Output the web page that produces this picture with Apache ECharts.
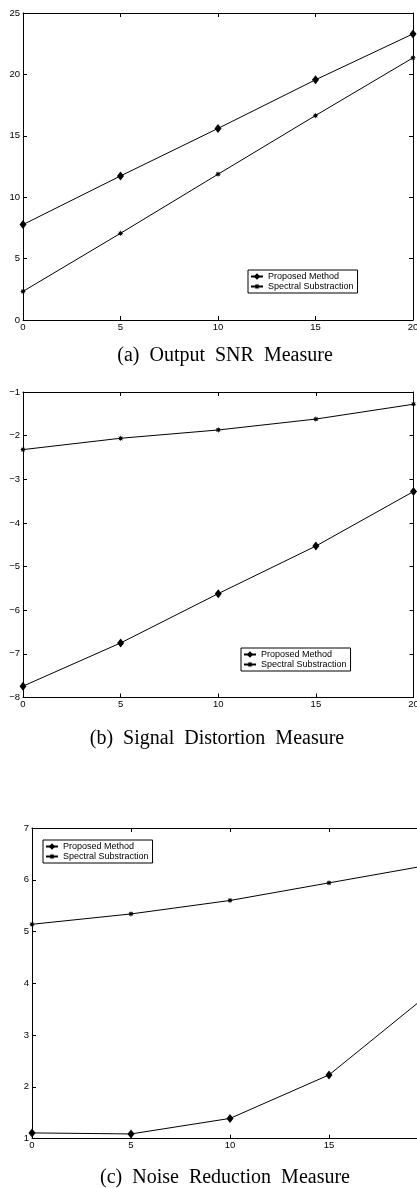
<!DOCTYPE html>
<html lang="en">
<head>
    <meta charset="UTF-8">
    <title>SNR / Distortion / Noise Reduction</title>
    <script src="https://cdn.jsdelivr.net/npm/echarts@6/dist/echarts.min.js"></script>
    <style>
        html,body{
            margin: 0;
            padding: 0;
            background: #fff;
            overflow: hidden;
        }
        #chart{
            width: 417px;
            height: 1188px;
        }
    </style>
</head>
<body>
<div id="chart"></div>
<script type="text/javascript">
    var inputSnr = [0, 5, 10, 15, 20];

    var snrProposed = [7.77, 11.73, 15.6, 19.56, 23.3];
    var snrSpectral = [2.33, 7.06, 11.87, 16.65, 21.35];

    var distProposed = [-7.74, -6.75, -5.62, -4.53, -3.28];
    var distSpectral = [-2.32, -2.06, -1.87, -1.62, -1.28];

    var nrProposed = [1.11, 1.09, 1.39, 2.23, 3.78];
    var nrSpectral = [5.14, 5.34, 5.6, 5.94, 6.28];

    var seriesNames = ['Proposed Method', 'Spectral Substraction'];
    var captions = ['(a)  Output  SNR  Measure', '(b)  Signal  Distortion  Measure', '(c)  Noise  Reduction  Measure'];

    // y ranges per panel: [min, max, interval]
    var yRanges = [[0, 25, 5], [-8, -1, 1], [1, 7, 1]];

    function pairs(xs, ys) {
        var out = [];
        for (var i = 0; i < xs.length; i++) {
            out.push([xs[i], ys[i]]);
        }
        return out;
    }

    // matlab '*' marker
    function starPath(n, ro, ri) {
        var d = '';
        for (var i = 0; i < 2 * n; i++) {
            var r = i % 2 ? ri : ro;
            var a = Math.PI * i / n - Math.PI / 2;
            d += (i ? 'L' : 'M') + (r * Math.cos(a)).toFixed(2) + ',' + (r * Math.sin(a)).toFixed(2);
        }
        return 'path://' + d + 'Z';
    }
    var asterisk = starPath(8, 10, 5);

    function minusFmt(v) {
        return String(v).replace('-', '\u2212');
    }

    function initChart() {
        var myChart = echarts.init(document.getElementById('chart'), null, {renderer: 'canvas'});

        var grids = [
            {left: 23, top: 13, width: 390, height: 307, outerBoundsMode: 'none'},
            {left: 23, top: 392, width: 390.5, height: 305.5, outerBoundsMode: 'none'},
            {left: 32, top: 828, width: 396, height: 310.6, outerBoundsMode: 'none'}
        ];
        var legendPos = [
            {left: 248, top: 270},
            {left: 241, top: 648},
            {left: 43, top: 840}
        ];
        var captionPos = [[225, 356], [217, 739], [225, 1178]];
        var panelData = [
            [snrProposed, snrSpectral],
            [distProposed, distSpectral],
            [nrProposed, nrSpectral]
        ];

        var labelStyle = {color: '#000', fontSize: 9.5, fontFamily: 'Liberation Sans'};
        var lineStyle = {color: '#000', width: 1};

        var xAxis = [], yAxis = [], series = [], legend = [], graphic = [];

        for (var g = 0; g < 3; g++) {
            var yr = yRanges[g];
            // bottom + top
            xAxis.push({
                type: 'value', gridIndex: g, position: 'bottom', min: 0, max: 20, interval: 5,
                axisLine: {onZero: false, lineStyle: lineStyle},
                axisTick: {inside: true, length: 4, lineStyle: lineStyle},
                axisLabel: Object.assign({margin: 2, showMinLabel: true, showMaxLabel: true}, labelStyle),
                splitLine: {show: false}
            });
            xAxis.push({
                type: 'value', gridIndex: g, position: 'top', min: 0, max: 20, interval: 5,
                axisLine: {onZero: false, lineStyle: lineStyle},
                axisTick: {inside: true, length: 4, lineStyle: lineStyle},
                axisLabel: {show: false},
                splitLine: {show: false}
            });
            // left + right
            yAxis.push({
                type: 'value', gridIndex: g, position: 'left', min: yr[0], max: yr[1], interval: yr[2],
                axisLine: {onZero: false, show: true, lineStyle: lineStyle},
                axisTick: {show: true, inside: true, length: 4, lineStyle: lineStyle},
                axisLabel: Object.assign({margin: 3, formatter: minusFmt, showMinLabel: true, showMaxLabel: true}, labelStyle),
                splitLine: {show: false}
            });
            yAxis.push({
                type: 'value', gridIndex: g, position: 'right', min: yr[0], max: yr[1], interval: yr[2],
                axisLine: {onZero: false, show: true, lineStyle: lineStyle},
                axisTick: {show: true, inside: true, length: 4, lineStyle: lineStyle},
                axisLabel: {show: false},
                splitLine: {show: false}
            });

            series.push({
                name: seriesNames[0], type: 'line', xAxisIndex: 2 * g, yAxisIndex: 2 * g,
                data: pairs(inputSnr, panelData[g][0]),
                symbol: 'diamond', symbolSize: [7, 9],
                itemStyle: {color: '#000'},
                lineStyle: lineStyle
            });
            series.push({
                name: seriesNames[1], type: 'line', xAxisIndex: 2 * g, yAxisIndex: 2 * g,
                data: pairs(inputSnr, panelData[g][1]),
                symbol: asterisk, symbolSize: 6,
                itemStyle: {color: '#000'},
                lineStyle: lineStyle
            });

            legend.push({
                data: seriesNames,
                orient: 'vertical',
                left: legendPos[g].left, top: legendPos[g].top,
                backgroundColor: '#fff',
                borderColor: '#000', borderWidth: 1, borderRadius: 0,
                padding: [2, 4, 2, 2],
                itemGap: 1, itemWidth: 12, itemHeight: 8,
                selectedMode: false,
                textStyle: {color: '#000', fontSize: 9, fontFamily: 'Liberation Sans'}
            });

            graphic.push({
                type: 'text', x: captionPos[g][0], y: captionPos[g][1],
                style: {
                    text: captions[g], fill: '#000',
                    font: '20px "Liberation Serif"',
                    textAlign: 'center', textVerticalAlign: 'middle'
                }
            });
        }

        var option = {
            animation: false,
            backgroundColor: '#fff',
            grid: grids,
            xAxis: xAxis,
            yAxis: yAxis,
            legend: legend,
            series: series,
            graphic: graphic
        };
        myChart.setOption(option, true);
    }

    initChart();
</script>
</body>
</html>
